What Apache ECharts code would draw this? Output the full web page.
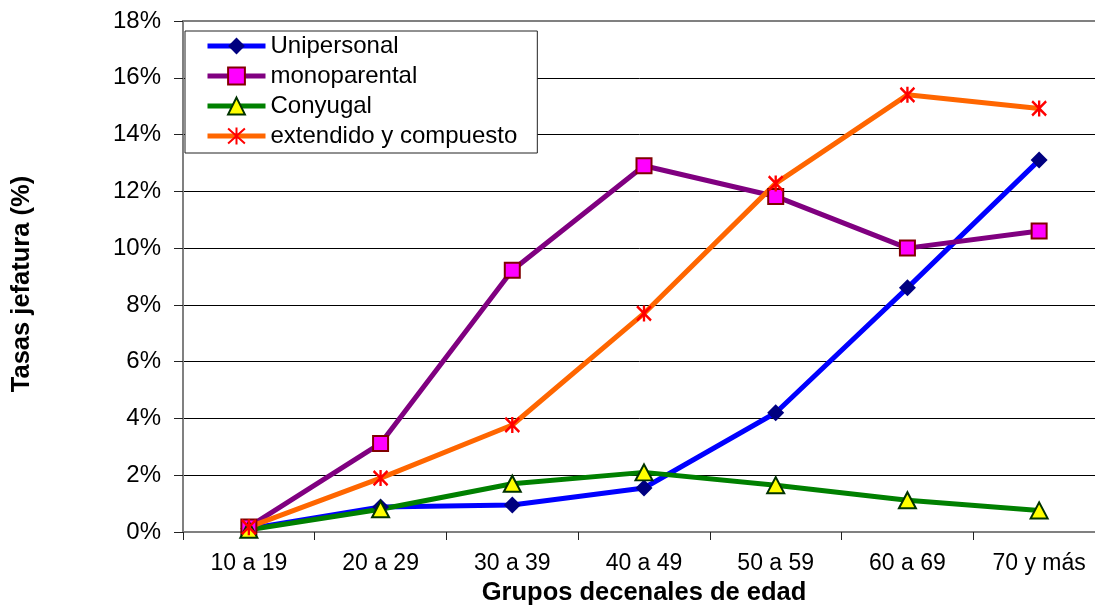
<!DOCTYPE html>
<html>
<head>
<meta charset="utf-8">
<script src="https://cdn.jsdelivr.net/npm/echarts@6/dist/echarts.min.js"></script>
<style>
  html, body { margin: 0; padding: 0; background: #ffffff; }
  #chart { width: 1095px; height: 609px; }
</style>
</head>
<body>
<div id="chart"></div>
<script>
// Age groups on the horizontal axis
const categories = ['10 a 19', '20 a 29', '30 a 39', '40 a 49', '50 a 59', '60 a 69', '70 y más'];

// Headship rates (%) by household type
const unipersonal = [0.12, 0.88, 0.95, 1.55, 4.2, 8.6, 13.1];
const monoparental = [0.18, 3.12, 9.22, 12.9, 11.82, 10.0, 10.6];
const conyugal = [0.08, 0.8, 1.7, 2.1, 1.65, 1.12, 0.76];
const extendido = [0.17, 1.9, 3.77, 7.7, 12.28, 15.4, 14.92];

const seriesNames = ['Unipersonal', 'monoparental', 'Conyugal', 'extendido y compuesto'];
const yTitle = 'Tasas jefatura (%)';
const xTitle = 'Grupos decenales de edad';

const FONT = '"Liberation Sans", Arial, sans-serif';
const ASTERISK = 'path://M0 0L14 16M14 0L0 16M7 -1L7 17';

const chart = echarts.init(document.getElementById('chart'), null, { renderer: 'canvas' });

function lineSeries(name, data, lineColor, symbol, fill, border, borderWidth, size) {
  return {
    name: name,
    type: 'line',
    data: data,
    symbol: symbol,
    symbolSize: size,
    showAllSymbol: true,
    lineStyle: { color: lineColor, width: 5 },
    itemStyle: { color: fill, borderColor: border, borderWidth: borderWidth },
    emphasis: { disabled: true }
  };
}

const splitColors = ['#808080', '#000', '#000', '#000', '#000', '#000', '#000', '#000', '#000', '#808080'];

chart.setOption({
  animation: false,
  backgroundColor: '#ffffff',
  textStyle: { fontFamily: FONT },
  grid: {
    left: 183, top: 21, bottom: 77, right: -10,
    outerBoundsMode: 'none',
    containLabel: false,
    show: true, borderColor: '#808080', borderWidth: 2, backgroundColor: '#ffffff'
  },
  graphic: [{
    type: 'text',
    x: 22, y: 284,
    rotation: Math.PI / 2,
    style: {
      text: yTitle,
      font: 'bold 25.5px "Liberation Sans", Arial, sans-serif',
      fill: '#000',
      align: 'center',
      verticalAlign: 'middle'
    }
  }],
  legend: {
    data: seriesNames,
    orient: 'vertical',
    left: 185, top: 31,
    padding: [0, 20, 2, 20],
    itemWidth: 58, itemHeight: 21, itemGap: 0, itemTextGap: 1,
    lineStyle: { width: 5 },
    backgroundColor: '#ffffff',
    borderColor: '#222', borderWidth: 1,
    textStyle: { fontFamily: FONT, fontSize: 24, color: '#000', lineHeight: 30 }
  },
  xAxis: {
    type: 'category',
    data: categories,
    boundaryGap: true,
    name: xTitle,
    nameLocation: 'middle',
    nameGap: 44,
    nameTextStyle: { fontFamily: FONT, fontSize: 25.5, fontWeight: 'bold', color: '#000' },
    axisLine: { lineStyle: { color: '#808080', width: 2 } },
    axisTick: { show: true, length: 8, lineStyle: { color: '#222', width: 1 } },
    axisLabel: { fontFamily: FONT, fontSize: 23, color: '#000', margin: 20 },
    splitLine: { show: false }
  },
  yAxis: {
    type: 'value',
    min: 0, max: 18, interval: 2,
    axisLine: { show: true, lineStyle: { color: '#808080', width: 2 } },
    axisTick: { show: true, length: 9, lineStyle: { color: '#222', width: 1 } },
    axisLabel: { fontFamily: FONT, fontSize: 24, color: '#000', margin: 22, formatter: '{value}%' },
    splitLine: { show: true, lineStyle: { color: splitColors, width: 1 } }
  },
  series: [
    lineSeries(seriesNames[0], unipersonal, '#0000ff', 'diamond', '#000080', '#000080', 0, [17, 17]),
    lineSeries(seriesNames[1], monoparental, '#800080', 'rect', '#ff00ff', '#800000', 2, 15),
    lineSeries(seriesNames[2], conyugal, '#008000', 'triangle', '#ffff00', '#003300', 2, [17, 16]),
    lineSeries(seriesNames[3], extendido, '#ff6600', ASTERISK, 'rgba(0,0,0,0)', '#ff0000', 2.5, [14, 16])
  ]
});
</script>
</body>
</html>
